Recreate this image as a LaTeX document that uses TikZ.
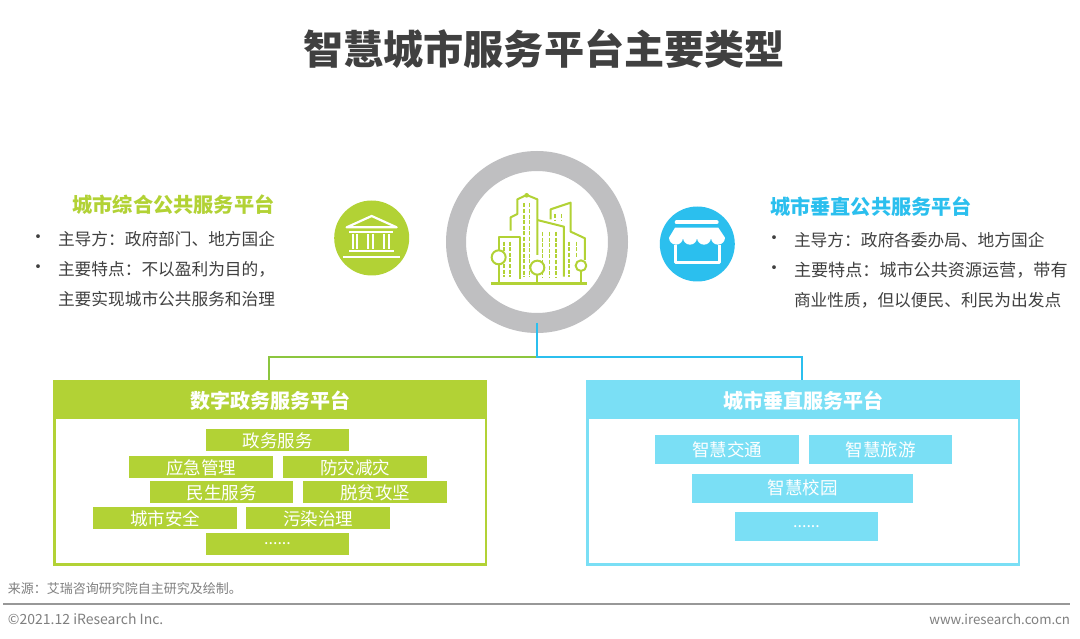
\documentclass[tikz,border=0pt]{standalone}
\usepackage{fontspec}
\setmainfont{Noto Sans CJK SC}
\definecolor{lime}{HTML}{B2D235}
\definecolor{sky}{HTML}{7ADFF5}
\definecolor{deep}{HTML}{2BBFEE}
\definecolor{linegreen}{HTML}{8CC63F}
\definecolor{txt}{HTML}{404040}
\definecolor{ringgray}{HTML}{BFBFC1}
\definecolor{foot}{HTML}{7F7F7F}
\newcommand{\fcolon}{\char"FF1A\relax}
\newcommand{\fcomma}{\char"FF0C\relax}
\tikzset{
  x=1pt,y=-1pt,
  every node/.style={inner sep=0pt,outer sep=0pt},
  bodytext/.style={anchor=west,text=txt,font=\fontsize{16.7}{20}\selectfont},
  bodytextR/.style={anchor=west,text=txt,font=\fontsize{16.7}{20}\selectfont},
  bullet/.style={anchor=center,text=txt,font=\fontsize{18}{20}\selectfont},
  headL/.style={anchor=center,text=lime,font=\bfseries\fontsize{20.2}{24}\selectfont},
  headR/.style={anchor=center,text=deep,font=\bfseries\fontsize{20.2}{24}\selectfont},
  bandtext/.style={text=white,font=\bfseries\fontsize{20}{24}\selectfont,text height=21pt,text depth=2pt},
  chip/.style={minimum height=22pt,minimum width=143.5pt,text=white,font=\fontsize{17.5}{20}\selectfont,text height=17pt,text depth=1.8pt},
  dotschip/.style={minimum height=22pt,minimum width=143.5pt,text=white,font=\fontsize{16}{14}\selectfont},
  chipR/.style={fill=sky,minimum height=29pt,minimum width=143.5pt,text=white,font=\fontsize{17.5}{20}\selectfont},
  footnote/.style={text=foot,font=\fontsize{13}{16}\selectfont},
  icon/.style={lime,line width=2pt,line join=round},
  windows/.style={lime,line width=1.5pt,dash pattern=on 4pt off 1.6pt},
  glyph/.style={white,line join=round},
}
\begin{document}
\begin{tikzpicture}
\useasboundingbox (0,0) rectangle (1080,639);
\fill[white] (0,0) rectangle (1080,639);

\node[anchor=center,text=txt,font=\bfseries\fontsize{40.1}{46}\selectfont] (title) at (544,49) {智慧城市服务平台主要类型};

% hub
\node[circle,draw=ringgray,line width=20pt,minimum size=162pt,fill=white] (hub) at (537,242) {};
\begin{scope}[shift={(420,140)},x=0.3333pt,y=-0.3333pt]
  \foreach \wx in {312,328}{\draw[windows] (\wx,190)--(\wx,412);}
  \foreach \wx in {368,388,408}{\draw[windows] (\wx,276)--(\wx,412);}
  \foreach \wx in {252,270}{\draw[windows] (\wx,305)--(\wx,412);}
  \foreach \wx in {447,470}{\draw[windows] (\wx,305)--(\wx,352);}
  \draw[windows] (447,356)--(447,412);
  \foreach \wx in {405,425}{\draw[windows] (\wx,222)--(\wx,244);}
  \draw[icon] (272,272)--(272,232)--(292,222)--(292,178)--(320,165)--(352,178)--(352,345);
  \fill[lime] (320,166) circle (7);
  \draw[icon] (392,238)--(392,208)--(452,188)--(452,275)--(495,295)--(495,360);
  \draw[icon] (352,240)--(432,260)--(432,410);
  \draw[icon] (236,332)--(236,290)--(300,290)--(300,418);
  \draw[icon,fill=white] (236,352) circle (21);
  \draw[icon] (236,373)--(236,430);
  \draw[icon,fill=white] (352,383) circle (21);
  \draw[icon] (352,404)--(352,430);
  \draw[icon,fill=white] (483,377) circle (16);
  \draw[icon] (483,393)--(483,430);
  \draw[lime,line width=2.4pt] (213,430)--(500,430);
\end{scope}

% bank badge
\node[circle,fill=lime,minimum size=75pt] (bank) at (371.7,238) {};
\begin{scope}[shift={(320,190)},x=0.3333pt,y=-0.3333pt]
  \draw[glyph,line width=2.2pt] (80,112)--(155,78)--(230,112)--cycle;
  \draw[glyph,line width=2pt] (88,126)--(218,126);
  \foreach \cx in {105,152,200}{
    \draw[glyph,line width=1.8pt] (\cx-7,132)--(\cx-7,176);
    \draw[glyph,line width=1.8pt] (\cx+7,132)--(\cx+7,176);
  }
  \draw[glyph,line width=2pt] (88,183)--(222,183);
  \draw[glyph,line width=2pt] (70,200)--(240,200);
\end{scope}

% shop badge
\node[circle,fill=deep,minimum size=75pt] (shop) at (697.3,244) {};
\begin{scope}[shift={(650,195)},x=0.3333pt,y=-0.3333pt]
  \draw[glyph,line width=4pt,line cap=round] (80,82)--(200,82);
  \fill[white] (75,98)--(205,98)--(225,128)
     arc[start angle=0,end angle=180,x radius=21,y radius=21]
     arc[start angle=0,end angle=180,x radius=21,y radius=21]
     arc[start angle=0,end angle=180,x radius=21,y radius=21]
     arc[start angle=0,end angle=180,x radius=21,y radius=21]
     --cycle;
  \draw[glyph,line width=3pt] (75,150)--(75,203)--(208,203)--(208,150);
\end{scope}

% left text
\node[headL] (hl) at (173.5,205) {城市综合公共服务平台};
\node[bullet] (bl1) at (38,239) {•};
\node[bodytext] (tl1) at (58,239) {主导方\fcolon 政府部门、地方国企};
\node[bullet] (bl2) at (38,269) {•};
\node[bodytext] (tl2) at (58,269) {主要特点\fcolon 不以盈利为目的\fcomma};
\node[bodytext] (tl3) at (58,299) {主要实现城市公共服务和治理};

% right text
\node[headR] (hr) at (871,207) {城市垂直公共服务平台};
\node[bullet] (br1) at (774,240) {•};
\node[bodytextR] (tr1) at (794,240) {主导方\fcolon 政府各委办局、地方国企};
\node[bullet] (br2) at (774,270) {•};
\node[bodytextR,font=\fontsize{17.1}{20}\selectfont] (tr2) at (794,270) {主要特点\fcolon 城市公共资源运营\fcomma 带有};
\node[bodytextR] (tr3) at (794,300) {商业性质\fcomma 但以便民、利民为出发点};

% left panel
\node[draw=lime,line width=2.5pt,fill=white,minimum width=431.5pt,minimum height=147pt] (panelL) at (270,491) {};
\node[fill=lime,minimum width=434pt,minimum height=38pt,bandtext] (bandL) at (270,399) {数字政务服务平台};
% right panel
\node[draw=sky,line width=2.5pt,fill=white,minimum width=431.5pt,minimum height=147pt] (panelR) at (803,491) {};
\node[fill=sky,minimum width=434pt,minimum height=38pt,bandtext] (bandR) at (803,399) {城市垂直服务平台};

% connectors
\coordinate (fork) at (537,357);
\draw[linegreen,line width=1.6pt] (fork) -| (bandL.north -| 269,380);
\draw[deep,line width=1.6pt] (hub.south) -- (fork) -| (bandR.north -| 802,380);

% left chips
\node[chip,fill=lime] (a1) at (277.5,440) {政务服务};
\node[chip,fill=lime] (a2) at (201.2,467) {应急管理};
\node[chip,fill=lime] (a3) at (355.2,467) {防灾减灾};
\node[chip,fill=lime] (a4) at (221.7,492) {民生服务};
\node[chip,fill=lime] (a5) at (375,492) {脱贫攻坚};
\node[chip,fill=lime] (a6) at (165,518) {城市安全};
\node[chip,fill=lime] (a7) at (318.2,518) {污染治理};
\node[dotschip,fill=lime] (a8) at (277.5,544) {......};

% right chips
\node[chipR] (b1) at (727,449.5) {智慧交通};
\node[chipR] (b2) at (880.5,449.5) {智慧旅游};
\node[chipR,minimum width=221pt] (b3) at (802.5,488) {智慧校园};
\node[chipR,font=\fontsize{16}{14}\selectfont] (b4) at (806.5,526.5) {......};

% footer
\node[footnote,anchor=west] (src) at (8,589) {来源\fcolon 艾瑞咨询研究院自主研究及绘制。};
\coordinate (ruleA) at (3,604);
\coordinate (ruleB) at (1070,604);
\draw[foot!80,line width=1.5pt] (ruleA) -- (ruleB);
\node[footnote,anchor=west,font=\fontsize{14}{16}\selectfont] (copy) at (8,619) {©2021.12 iResearch Inc.};
\node[footnote,anchor=east,font=\fontsize{13.3}{16}\selectfont] (web) at (1070,619) {www.iresearch.com.cn};
\end{tikzpicture}
\end{document}
